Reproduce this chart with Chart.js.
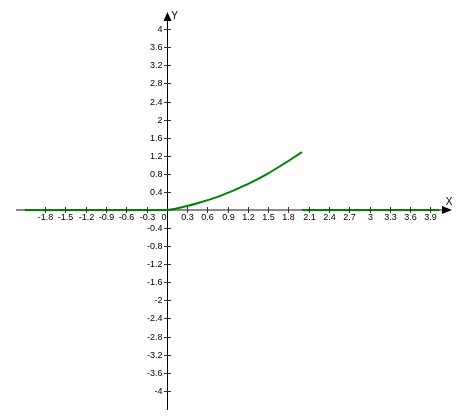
<!DOCTYPE html>
<html>
<head>
<meta charset="utf-8">
<script src="https://cdn.jsdelivr.net/npm/chart.js@4/dist/chart.umd.min.js"></script>
<style>
  html, body { margin: 0; padding: 0; background: #fff; }
  #wrap { width: 470px; height: 420px; }
</style>
</head>
<body>
<div id="wrap"><canvas id="myChart"></canvas></div>
<script>
// curve part (0..2) plus the flat parts on either side
const leftX  = [-2.1, 0, 0.25, 0.5, 0.75, 1, 1.25, 1.5, 1.75, 2];
const leftY  = [0, 0, 0.07, 0.17, 0.29, 0.44, 0.61, 0.81, 1.04, 1.28];
const rightX = [2, 4.03];
const rightY = [0, 0];

const xTicks = [-1.8, -1.5, -1.2, -0.9, -0.6, -0.3, 0, 0.3, 0.6, 0.9, 1.2, 1.5, 1.8, 2.1, 2.4, 2.7, 3, 3.3, 3.6, 3.9];
const xTickLabels = ['-1.8', '-1.5', '-1.2', '-0.9', '-0.6', '-0.3', '0', '0.3', '0.6', '0.9', '1.2', '1.5', '1.8', '2.1', '2.4', '2.7', '3', '3.3', '3.6', '3.9'];
const yTicks = [4, 3.6, 3.2, 2.8, 2.4, 2, 1.6, 1.2, 0.8, 0.4, -0.4, -0.8, -1.2, -1.6, -2, -2.4, -2.8, -3.2, -3.6, -4];
const yTickLabels = ['4', '3.6', '3.2', '2.8', '2.4', '2', '1.6', '1.2', '0.8', '0.4', '-0.4', '-0.8', '-1.2', '-1.6', '-2', '-2.4', '-2.8', '-3.2', '-3.6', '-4'];

const toPts = (xs, ys) => xs.map((x, i) => ({ x: x, y: ys[i] }));

const FONT = '9px "Liberation Sans", Arial, sans-serif';

const axesPlugin = {
  id: 'crossAxes',
  beforeDatasetsDraw(chart) {
    const c = chart.ctx, sx = chart.scales.x, sy = chart.scales.y;
    const ox = sx.getPixelForValue(0), oy = sy.getPixelForValue(0);
    c.save();
    // x axis
    c.strokeStyle = '#8a8a8a';
    c.lineWidth = 2;
    c.beginPath();
    c.moveTo(16, oy);
    c.lineTo(444, oy);
    c.stroke();
    // y axis
    c.strokeStyle = '#000';
    c.lineWidth = 1;
    c.beginPath();
    c.moveTo(Math.round(ox) + 0.5, 410);
    c.lineTo(Math.round(ox) + 0.5, 19);
    c.stroke();
    c.restore();
  },
  afterDatasetsDraw(chart) {
    const c = chart.ctx, sx = chart.scales.x, sy = chart.scales.y;
    const ox = Math.round(sx.getPixelForValue(0)) + 0.5, oy = sy.getPixelForValue(0);
    c.save();
    c.strokeStyle = '#333';
    c.lineWidth = 1;
    c.fillStyle = '#000';
    c.font = FONT;
    // x ticks
    c.textAlign = 'center';
    c.textBaseline = 'middle';
    xTicks.forEach((v, i) => {
      const px = Math.round(sx.getPixelForValue(v)) + 0.5;
      if (v !== 0) {
        c.beginPath();
        c.moveTo(px, oy - 3);
        c.lineTo(px, oy + 3);
        c.stroke();
        c.fillText(xTickLabels[i], px, oy + 8);
      } else {
        c.textAlign = 'right';
        c.fillText(xTickLabels[i], ox - 1, oy + 8);
        c.textAlign = 'center';
      }
    });
    // y ticks
    c.textAlign = 'right';
    yTicks.forEach((v, i) => {
      const py = Math.round(sy.getPixelForValue(v)) + 0.5;
      c.beginPath();
      c.moveTo(ox - 3.5, py);
      c.lineTo(ox + 3.5, py);
      c.stroke();
      c.fillText(yTickLabels[i], ox - 5, py);
    });
    // arrows
    c.fillStyle = '#000';
    c.beginPath();
    c.moveTo(452, oy);
    c.lineTo(442, oy - 4);
    c.lineTo(442, oy + 4);
    c.closePath();
    c.fill();
    c.beginPath();
    c.moveTo(ox, 12);
    c.lineTo(ox - 4, 21);
    c.lineTo(ox + 4, 21);
    c.closePath();
    c.fill();
    // axis names
    c.font = '10px "Liberation Sans", Arial, sans-serif';
    c.textAlign = 'center';
    c.fillText('X', 449, oy - 8);
    c.fillText('Y', ox + 7, 16);
    c.restore();
  }
};

new Chart(document.getElementById('myChart'), {
  type: 'line',
  data: {
    datasets: [
      { data: toPts(leftX, leftY), borderColor: '#008000', borderWidth: 2, pointRadius: 0, cubicInterpolationMode: 'monotone' },
      { data: toPts(rightX, rightY), borderColor: '#008000', borderWidth: 2, pointRadius: 0 }
    ]
  },
  options: {
    responsive: true,
    maintainAspectRatio: false,
    animation: false,
    layout: { padding: 0 },
    scales: {
      x: { type: 'linear', min: -2.467, max: 4.485, display: false },
      y: { type: 'linear', min: -4.646, max: 4.646, display: false }
    },
    plugins: {
      legend: { display: false },
      tooltip: { enabled: false }
    }
  },
  plugins: [axesPlugin]
});
</script>
</body>
</html>
